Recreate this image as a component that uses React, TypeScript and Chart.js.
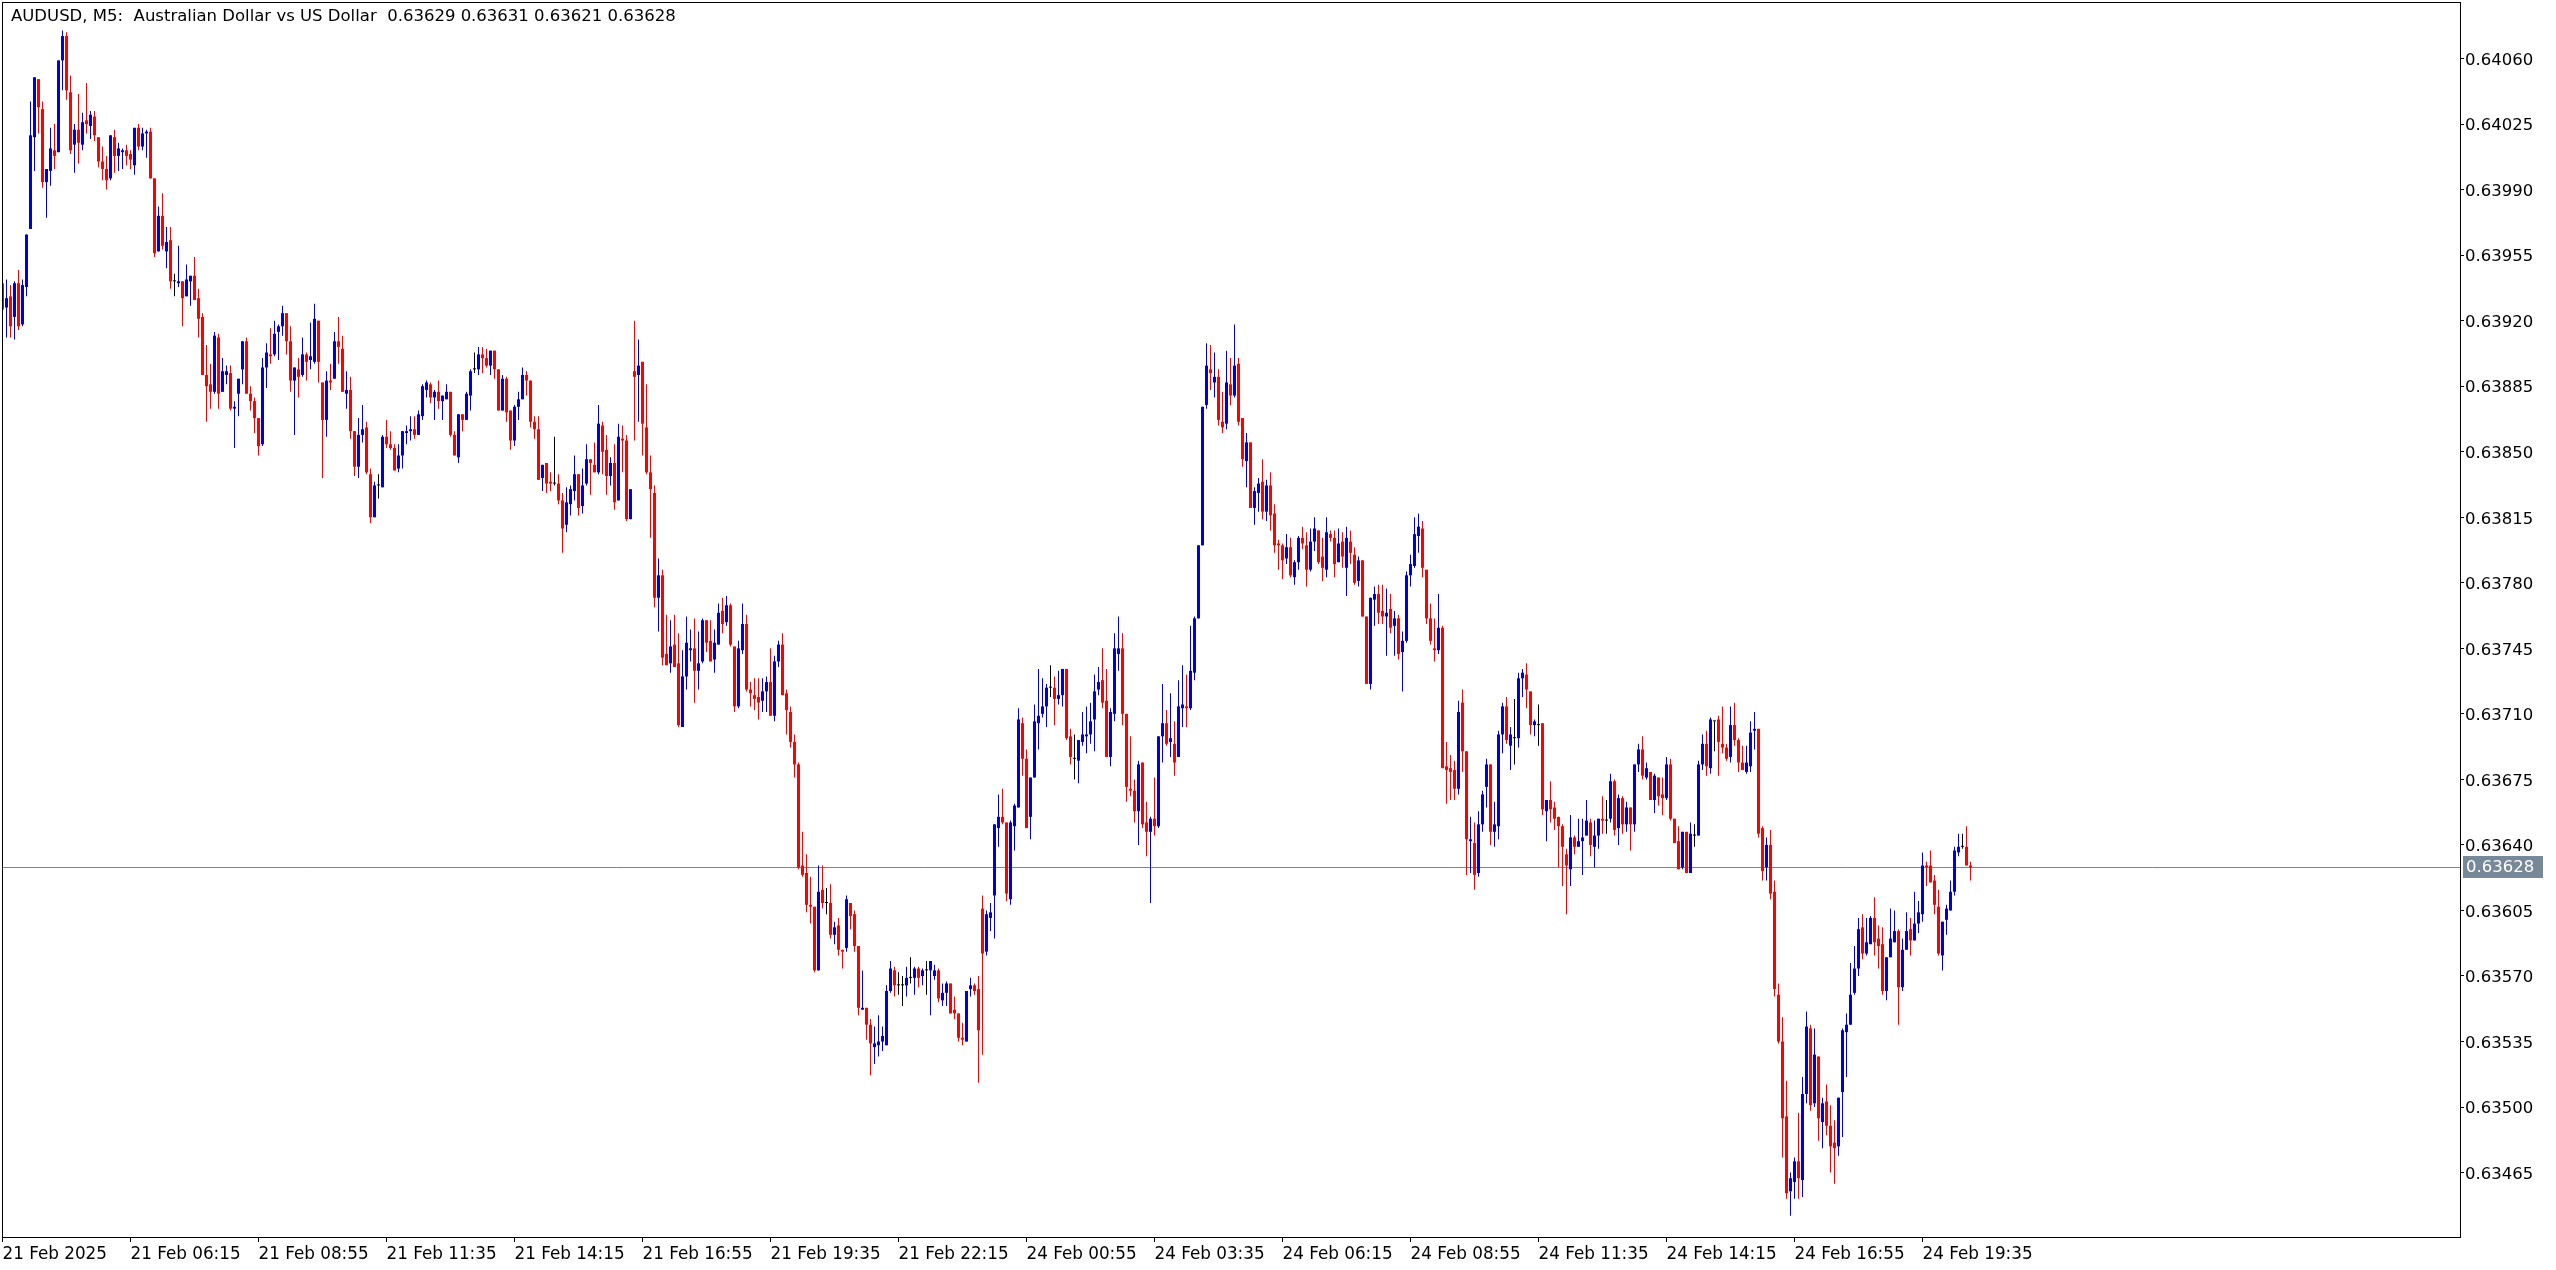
import React, { useEffect, useRef } from 'react';
import { Chart, registerables } from 'chart.js';

Chart.register(...registerables);

const TITLE = 'AUDUSD, M5:  Australian Dollar vs US Dollar  0.63629 0.63631 0.63621 0.63628';

const TIME_LABELS = [
  '21 Feb 2025', '21 Feb 06:15', '21 Feb 08:55', '21 Feb 11:35', '21 Feb 14:15', '21 Feb 16:55',
  '21 Feb 19:35', '21 Feb 22:15', '24 Feb 00:55', '24 Feb 03:35', '24 Feb 06:15', '24 Feb 08:55',
  '24 Feb 11:35', '24 Feb 14:15', '24 Feb 16:55', '24 Feb 19:35',
];
const TIME_LABEL_BARS = [0, 32, 64, 96, 128, 160, 192, 224, 256, 288, 320, 352, 384, 416, 448, 480];

const PRICE_TICKS = [
  0.63465, 0.635, 0.63535, 0.6357, 0.63605, 0.6364, 0.63675, 0.6371, 0.63745,
  0.6378, 0.63815, 0.6385, 0.63885, 0.6392, 0.63955, 0.6399, 0.64025, 0.6406,
];

// prices in points (1 point = 0.00001)
const OPEN = [
  63940, 63927, 63933, 63922, 63940, 63918, 63938, 63969, 64018, 64049,
  64033, 63994, 64000, 64011, 64010, 64059, 64072, 64042, 64014, 64022,
  64014, 64027, 64024, 64029, 64018, 64005, 64001, 63996, 64018, 64008,
  64010, 64011, 64009, 64003, 64023, 64013, 64020, 64021, 63996, 63957,
  63976, 63957, 63963, 63941, 63940, 63941, 63933, 63941, 63944, 63932,
  63922, 63891, 63886, 63882, 63911, 63882, 63891, 63892, 63873, 63881,
  63894, 63909, 63881, 63877, 63868, 63854, 63895, 63902, 63902, 63914,
  63917, 63924, 63909, 63888, 63894, 63891, 63902, 63899, 63898, 63920,
  63887, 63867, 63888, 63889, 63909, 63905, 63881, 63883, 63861, 63842,
  63859, 63863, 63838, 63815, 63832, 63831, 63858, 63854, 63852, 63841,
  63848, 63860, 63861, 63862, 63859, 63869, 63883, 63886, 63879, 63882,
  63877, 63878, 63882, 63859, 63847, 63870, 63867, 63880, 63894, 63894,
  63902, 63900, 63896, 63904, 63894, 63872, 63889, 63872, 63856, 63874,
  63878, 63891, 63888, 63866, 63862, 63836, 63844, 63834, 63833, 63833,
  63824, 63811, 63822, 63829, 63838, 63821, 63833, 63846, 63843, 63839,
  63864, 63851, 63837, 63844, 63824, 63857, 63856, 63814, 63893, 63891,
  63898, 63863, 63839, 63828, 63772, 63784, 63742, 63737, 63747, 63737,
  63703, 63730, 63744, 63745, 63733, 63738, 63760, 63749, 63739, 63747,
  63765, 63759, 63768, 63746, 63714, 63744, 63758, 63723, 63720, 63719,
  63717, 63722, 63727, 63709, 63738, 63747, 63721, 63711, 63695, 63683,
  63629, 63625, 63608, 63607, 63573, 63616, 63609, 63609, 63592, 63597,
  63584, 63585, 63609, 63603, 63586, 63552, 63553, 63544, 63532, 63533,
  63535, 63533, 63562, 63573, 63565, 63565, 63565, 63569, 63569, 63574,
  63570, 63573, 63573, 63570, 63573, 63557, 63561, 63566, 63552, 63550,
  63537, 63535, 63563, 63565, 63563, 63606, 63583, 63601, 63613, 63649,
  63655, 63652, 63611, 63650, 63660, 63705, 63686, 63655, 63676, 63705,
  63710, 63714, 63724, 63724, 63718, 63720, 63734, 63698, 63686, 63685,
  63695, 63698, 63699, 63707, 63723, 63728, 63717, 63687, 63710, 63742,
  63745, 63710, 63670, 63669, 63658, 63684, 63652, 63647, 63654, 63650,
  63698, 63705, 63695, 63694, 63687, 63713, 63714, 63713, 63732, 63761,
  63800, 63875, 63894, 63887, 63890, 63866, 63865, 63886, 63880, 63897,
  63868, 63845, 63855, 63820, 63828, 63834, 63818, 63832, 63817, 63801,
  63800, 63793, 63799, 63783, 63791, 63804, 63800, 63787, 63802, 63808,
  63794, 63787, 63806, 63804, 63791, 63802, 63788, 63802, 63795, 63781,
  63792, 63762, 63726, 63771, 63774, 63765, 63762, 63766, 63757, 63761,
  63743, 63749, 63784, 63789, 63805, 63809, 63787, 63761, 63745, 63744,
  63756, 63682, 63681, 63680, 63670, 63716, 63690, 63642, 63641, 63625,
  63651, 63671, 63683, 63647, 63650, 63699, 63714, 63693, 63697, 63697,
  63729, 63731, 63722, 63704, 63704, 63705, 63658, 63664, 63660, 63655,
  63650, 63635, 63627, 63644, 63639, 63642, 63645, 63652, 63639, 63645,
  63654, 63653, 63654, 63674, 63649, 63665, 63651, 63660, 63651, 63683,
  63691, 63676, 63679, 63664, 63676, 63667, 63665, 63683, 63654, 63642,
  63628, 63647, 63625, 63645, 63645, 63683, 63694, 63681, 63706, 63707,
  63694, 63692, 63687, 63704, 63696, 63684, 63679, 63682, 63701, 63702,
  63649, 63628, 63640, 63615, 63560, 63535, 63495, 63455, 63460, 63471,
  63461, 63507, 63542, 63502, 63527, 63492, 63503, 63490, 63481, 63479,
  63508, 63540, 63544, 63561, 63574, 63596, 63582, 63587, 63601, 63590,
  63587, 63562, 63580, 63588, 63594, 63564, 63584, 63595, 63589, 63598,
  63603, 63629, 63629, 63621, 63607, 63581, 63600, 63605, 63615, 63636,
  63639, 63639, 63629,
];

const HIGH = [
  63942, 63942, 63939, 63941, 63947, 63942, 63966, 64037, 64050, 64049,
  64037, 64001, 64023, 64025, 64059, 64075, 64074, 64051, 64025, 64041,
  64031, 64047, 64032, 64032, 64018, 64013, 64008, 64019, 64022, 64015,
  64012, 64014, 64011, 64023, 64025, 64023, 64022, 64023, 63996, 63981,
  63988, 63970, 63970, 63945, 63960, 63941, 63950, 63944, 63954, 63937,
  63924, 63907, 63897, 63914, 63913, 63900, 63896, 63896, 63877, 63889,
  63909, 63911, 63885, 63879, 63868, 63900, 63908, 63916, 63920, 63918,
  63928, 63924, 63917, 63895, 63900, 63911, 63903, 63919, 63929, 63920,
  63887, 63893, 63897, 63914, 63922, 63912, 63893, 63890, 63861, 63868,
  63875, 63866, 63841, 63834, 63838, 63859, 63867, 63861, 63854, 63854,
  63861, 63864, 63869, 63869, 63872, 63886, 63888, 63887, 63883, 63888,
  63880, 63886, 63882, 63861, 63870, 63870, 63882, 63894, 63903, 63906,
  63906, 63905, 63904, 63904, 63894, 63891, 63890, 63872, 63875, 63882,
  63895, 63893, 63888, 63869, 63869, 63843, 63844, 63839, 63858, 63838,
  63828, 63831, 63832, 63848, 63838, 63841, 63854, 63846, 63855, 63875,
  63866, 63859, 63847, 63854, 63865, 63864, 63859, 63830, 63920, 63910,
  63898, 63886, 63848, 63832, 63793, 63787, 63763, 63760, 63763, 63753,
  63744, 63762, 63755, 63761, 63754, 63761, 63760, 63760, 63755, 63769,
  63772, 63773, 63769, 63746, 63749, 63769, 63763, 63727, 63729, 63729,
  63729, 63730, 63745, 63741, 63749, 63753, 63723, 63714, 63699, 63684,
  63647, 63635, 63623, 63607, 63629, 63629, 63617, 63619, 63599, 63601,
  63584, 63613, 63609, 63605, 63586, 63573, 63553, 63547, 63543, 63549,
  63543, 63565, 63578, 63575, 63572, 63570, 63575, 63580, 63575, 63575,
  63574, 63578, 63578, 63576, 63574, 63566, 63567, 63566, 63559, 63550,
  63545, 63562, 63569, 63566, 63570, 63613, 63605, 63609, 63651, 63667,
  63670, 63652, 63653, 63662, 63713, 63708, 63691, 63676, 63715, 63734,
  63729, 63726, 63736, 63730, 63733, 63734, 63734, 63702, 63699, 63696,
  63711, 63714, 63716, 63731, 63735, 63745, 63734, 63713, 63753, 63762,
  63753, 63710, 63698, 63675, 63685, 63684, 63663, 63655, 63676, 63698,
  63726, 63712, 63721, 63706, 63728, 63736, 63731, 63757, 63762, 63800,
  63874, 63908, 63907, 63903, 63894, 63882, 63904, 63900, 63918, 63900,
  63868, 63860, 63855, 63831, 63836, 63846, 63835, 63839, 63822, 63803,
  63801, 63806, 63804, 63792, 63805, 63810, 63807, 63809, 63815, 63808,
  63804, 63815, 63808, 63808, 63809, 63807, 63810, 63808, 63799, 63794,
  63792, 63762, 63772, 63778, 63779, 63779, 63777, 63774, 63765, 63763,
  63754, 63786, 63795, 63815, 63817, 63813, 63787, 63769, 63761, 63774,
  63757, 63695, 63688, 63685, 63717, 63723, 63690, 63655, 63652, 63658,
  63669, 63686, 63683, 63663, 63701, 63716, 63719, 63703, 63718, 63732,
  63734, 63737, 63722, 63707, 63715, 63705, 63664, 63674, 63663, 63655,
  63651, 63638, 63656, 63645, 63654, 63654, 63664, 63654, 63653, 63654,
  63666, 63664, 63678, 63675, 63667, 63666, 63663, 63660, 63683, 63694,
  63698, 63684, 63679, 63678, 63676, 63676, 63687, 63686, 63654, 63650,
  63647, 63647, 63652, 63651, 63685, 63699, 63701, 63708, 63706, 63709,
  63714, 63694, 63714, 63716, 63697, 63693, 63693, 63706, 63711, 63702,
  63650, 63644, 63648, 63621, 63566, 63548, 63514, 63465, 63473, 63497,
  63516, 63551, 63544, 63542, 63527, 63505, 63512, 63501, 63493, 63505,
  63542, 63550, 63577, 63586, 63601, 63603, 63601, 63602, 63612, 63597,
  63596, 63580, 63606, 63605, 63595, 63590, 63604, 63601, 63615, 63610,
  63636, 63631, 63637, 63624, 63616, 63599, 63608, 63621, 63639, 63646,
  63646, 63650, 63631,
];

const LOW = [
  63924, 63911, 63911, 63910, 63915, 63917, 63933, 63969, 64000, 64020,
  63991, 63975, 63992, 64001, 64010, 64043, 64038, 64009, 63999, 64004,
  64011, 64020, 64017, 64016, 64002, 63995, 63990, 63995, 63999, 64000,
  64001, 64003, 64001, 63998, 64011, 64011, 64007, 63996, 63954, 63957,
  63958, 63948, 63937, 63933, 63938, 63917, 63933, 63928, 63931, 63911,
  63891, 63866, 63873, 63881, 63873, 63882, 63886, 63872, 63852, 63869,
  63886, 63881, 63872, 63860, 63848, 63853, 63884, 63897, 63901, 63899,
  63912, 63902, 63882, 63859, 63879, 63890, 63888, 63894, 63897, 63887,
  63836, 63858, 63883, 63889, 63897, 63882, 63873, 63857, 63837, 63836,
  63855, 63838, 63812, 63815, 63825, 63831, 63852, 63851, 63840, 63839,
  63841, 63854, 63856, 63857, 63859, 63867, 63879, 63876, 63867, 63873,
  63867, 63878, 63858, 63848, 63844, 63861, 63867, 63872, 63892, 63891,
  63892, 63895, 63891, 63889, 63872, 63872, 63866, 63851, 63853, 63867,
  63878, 63880, 63863, 63857, 63835, 63829, 63828, 63829, 63832, 63822,
  63796, 63807, 63816, 63824, 63816, 63817, 63832, 63827, 63839, 63838,
  63838, 63827, 63832, 63819, 63824, 63839, 63813, 63814, 63856, 63866,
  63848, 63838, 63804, 63767, 63754, 63736, 63736, 63732, 63735, 63703,
  63703, 63723, 63738, 63716, 63723, 63737, 63743, 63738, 63732, 63747,
  63753, 63757, 63746, 63711, 63713, 63742, 63722, 63714, 63712, 63707,
  63711, 63711, 63709, 63706, 63735, 63720, 63699, 63692, 63676, 63627,
  63623, 63604, 63598, 63572, 63573, 63606, 63603, 63590, 63587, 63581,
  63574, 63583, 63595, 63583, 63549, 63552, 63536, 63517, 63523, 63527,
  63530, 63533, 63561, 63559, 63560, 63554, 63559, 63566, 63560, 63564,
  63565, 63560, 63549, 63568, 63556, 63554, 63554, 63550, 63547, 63535,
  63533, 63535, 63559, 63560, 63513, 63528, 63581, 63594, 63590, 63639,
  63651, 63610, 63608, 63637, 63660, 63677, 63649, 63643, 63676, 63691,
  63708, 63703, 63719, 63704, 63715, 63714, 63696, 63683, 63675, 63673,
  63693, 63689, 63694, 63690, 63720, 63713, 63687, 63682, 63706, 63733,
  63704, 63663, 63666, 63652, 63640, 63649, 63634, 63609, 63645, 63649,
  63684, 63693, 63687, 63677, 63687, 63703, 63703, 63712, 63728, 63761,
  63800, 63873, 63883, 63879, 63864, 63860, 63862, 63875, 63879, 63864,
  63842, 63831, 63820, 63811, 63818, 63814, 63813, 63808, 63796, 63787,
  63782, 63790, 63783, 63779, 63787, 63798, 63778, 63786, 63797, 63790,
  63781, 63783, 63802, 63783, 63791, 63788, 63773, 63790, 63779, 63778,
  63762, 63726, 63723, 63757, 63758, 63758, 63741, 63753, 63741, 63739,
  63722, 63748, 63778, 63788, 63796, 63783, 63758, 63747, 63738, 63742,
  63681, 63662, 63664, 63664, 63667, 63679, 63624, 63625, 63616, 63623,
  63647, 63660, 63640, 63639, 63643, 63689, 63694, 63680, 63683, 63692,
  63719, 63713, 63699, 63698, 63693, 63656, 63642, 63652, 63648, 63628,
  63618, 63603, 63618, 63635, 63639, 63624, 63645, 63634, 63628, 63638,
  63646, 63646, 63652, 63645, 63640, 63646, 63647, 63637, 63647, 63679,
  63675, 63675, 63664, 63657, 63661, 63656, 63664, 63653, 63641, 63627,
  63627, 63625, 63625, 63639, 63645, 63680, 63677, 63678, 63690, 63677,
  63689, 63685, 63684, 63693, 63679, 63680, 63678, 63679, 63691, 63644,
  63621, 63621, 63611, 63559, 63534, 63473, 63451, 63442, 63451, 63451,
  63452, 63502, 63498, 63500, 63482, 63478, 63485, 63465, 63459, 63474,
  63484, 63516, 63544, 63560, 63570, 63579, 63581, 63587, 63581, 63574,
  63560, 63557, 63580, 63588, 63544, 63562, 63584, 63581, 63589, 63593,
  63599, 63618, 63620, 63603, 63581, 63573, 63592, 63605, 63613, 63634,
  63638, 63629, 63621,
];

const CLOSE = [
  63926, 63932, 63917, 63940, 63917, 63939, 63966, 64019, 64050, 64034,
  63994, 64001, 64012, 64008, 64059, 64072, 64043, 64011, 64022, 64015,
  64026, 64025, 64030, 64019, 64005, 64001, 63995, 64019, 64008, 64012,
  64011, 64008, 64006, 64023, 64013, 64020, 64021, 63996, 63956, 63976,
  63960, 63962, 63941, 63941, 63941, 63932, 63942, 63944, 63931, 63921,
  63891, 63885, 63882, 63912, 63881, 63893, 63893, 63873, 63874, 63889,
  63909, 63881, 63877, 63868, 63853, 63895, 63903, 63901, 63913, 63917,
  63924, 63909, 63888, 63895, 63890, 63902, 63898, 63901, 63921, 63898,
  63867, 63888, 63887, 63909, 63906, 63882, 63883, 63861, 63842, 63859,
  63862, 63839, 63815, 63832, 63832, 63858, 63854, 63852, 63840, 63848,
  63861, 63861, 63862, 63859, 63870, 63885, 63887, 63879, 63882, 63877,
  63880, 63882, 63859, 63848, 63870, 63867, 63881, 63893, 63894, 63902,
  63900, 63896, 63904, 63894, 63872, 63889, 63871, 63856, 63874, 63878,
  63891, 63888, 63866, 63862, 63835, 63843, 63833, 63833, 63833, 63824,
  63809, 63823, 63830, 63838, 63820, 63832, 63846, 63844, 63839, 63865,
  63850, 63837, 63844, 63823, 63858, 63856, 63814, 63830, 63890, 63896,
  63865, 63839, 63830, 63772, 63784, 63740, 63736, 63746, 63735, 63704,
  63730, 63748, 63745, 63733, 63737, 63760, 63748, 63738, 63748, 63764,
  63758, 63768, 63747, 63714, 63745, 63758, 63723, 63721, 63718, 63716,
  63722, 63727, 63709, 63738, 63747, 63720, 63712, 63695, 63683, 63628,
  63624, 63608, 63607, 63573, 63615, 63609, 63609, 63592, 63596, 63584,
  63583, 63611, 63602, 63586, 63553, 63553, 63544, 63534, 63534, 63535,
  63538, 63562, 63574, 63565, 63565, 63565, 63569, 63569, 63574, 63569,
  63573, 63573, 63578, 63573, 63558, 63561, 63566, 63550, 63550, 63537,
  63536, 63562, 63565, 63562, 63541, 63582, 63603, 63604, 63651, 63655,
  63652, 63614, 63652, 63661, 63707, 63686, 63649, 63676, 63706, 63709,
  63714, 63724, 63724, 63718, 63720, 63734, 63697, 63687, 63686, 63696,
  63699, 63699, 63706, 63722, 63727, 63716, 63687, 63711, 63745, 63745,
  63710, 63671, 63669, 63658, 63683, 63651, 63647, 63654, 63650, 63698,
  63705, 63694, 63697, 63684, 63714, 63715, 63713, 63733, 63761, 63800,
  63874, 63896, 63892, 63890, 63867, 63863, 63887, 63880, 63896, 63866,
  63846, 63855, 63820, 63829, 63833, 63818, 63832, 63816, 63800, 63800,
  63792, 63799, 63784, 63791, 63804, 63801, 63787, 63802, 63809, 63791,
  63788, 63807, 63804, 63790, 63801, 63794, 63804, 63796, 63780, 63792,
  63762, 63726, 63772, 63774, 63764, 63762, 63764, 63756, 63761, 63742,
  63749, 63784, 63790, 63806, 63810, 63788, 63761, 63749, 63744, 63756,
  63681, 63680, 63679, 63670, 63711, 63690, 63643, 63643, 63624, 63651,
  63667, 63683, 63647, 63651, 63699, 63714, 63696, 63699, 63697, 63729,
  63732, 63723, 63704, 63706, 63704, 63659, 63664, 63659, 63654, 63650,
  63639, 63629, 63644, 63639, 63642, 63644, 63653, 63640, 63645, 63654,
  63653, 63653, 63674, 63648, 63665, 63651, 63660, 63651, 63683, 63691,
  63677, 63681, 63664, 63677, 63666, 63665, 63683, 63654, 63641, 63627,
  63647, 63625, 63646, 63645, 63683, 63694, 63682, 63707, 63706, 63695,
  63692, 63686, 63704, 63696, 63684, 63680, 63684, 63700, 63702, 63646,
  63626, 63640, 63614, 63563, 63535, 63494, 63454, 63462, 63471, 63462,
  63507, 63543, 63501, 63528, 63494, 63502, 63490, 63479, 63478, 63505,
  63541, 63544, 63560, 63574, 63595, 63582, 63588, 63601, 63588, 63586,
  63562, 63580, 63590, 63594, 63564, 63584, 63594, 63589, 63598, 63604,
  63629, 63628, 63620, 63608, 63582, 63599, 63606, 63615, 63637, 63639,
  63639, 63629, 63628,
];

const POINT = 0.00001;
const BLUE = '#0000dd';
const RED = '#ff0000';
const DOJI = '#000000';
const PRICE_LINE = '#778899';

const W = 2556;
const H = 1270;

function candleColor(i: number): string {
  if (CLOSE[i] > OPEN[i]) return BLUE;
  if (CLOSE[i] < OPEN[i]) return RED;
  return DOJI;
}

export default function App() {
  const ref = useRef<HTMLCanvasElement | null>(null);

  useEffect(() => {
    const canvas = ref.current;
    if (!canvas) return;
    const colors = OPEN.map((_, i) => candleColor(i));
    const wickData = OPEN.map((_, i) => ({ x: i, y: [LOW[i] * POINT, HIGH[i] * POINT] }));
    const bodyData = OPEN.map((_, i) => ({ x: i, y: [OPEN[i] * POINT, CLOSE[i] * POINT] }));
    const last = CLOSE[CLOSE.length - 1] * POINT;

    const overlay = {
      id: 'mt5overlay',
      beforeDatasetsDraw(chart: any) {
        const { ctx, chartArea, scales } = chart;
        const y = Math.round(scales.y.getPixelForValue(last)) + 0.5;
        ctx.save();
        ctx.strokeStyle = PRICE_LINE;
        ctx.lineWidth = 1;
        ctx.beginPath();
        ctx.moveTo(chartArea.left, y);
        ctx.lineTo(chartArea.right, y);
        ctx.stroke();
        ctx.restore();
      },
      afterDraw(chart: any) {
        const { ctx, chartArea, scales } = chart;
        ctx.save();
        ctx.strokeStyle = '#000';
        ctx.lineWidth = 1;
        ctx.strokeRect(chartArea.left + 0.5, chartArea.top + 0.5,
          chartArea.right - chartArea.left, chartArea.bottom - chartArea.top);
        ctx.fillStyle = '#000';
        ctx.font = '16.5px "DejaVu Sans"';
        ctx.textBaseline = 'alphabetic';
        ctx.textAlign = 'left';
        ctx.fillText(TITLE, chartArea.left + 9, 21);
        const y = Math.round(scales.y.getPixelForValue(last)) + 0.5;
        ctx.fillStyle = PRICE_LINE;
        ctx.fillRect(chartArea.right + 3, y - 11.5, 80, 22);
        ctx.fillStyle = '#fff';
        ctx.font = '16.5px "DejaVu Sans"';
        ctx.textBaseline = 'middle';
        ctx.fillText(last.toFixed(5), chartArea.right + 6, y + 0.5);
        ctx.restore();
      },
    };

    const chart = new Chart(canvas, {
      type: 'bar',
      data: {
        datasets: [
          {
            label: 'wick',
            data: wickData as any,
            backgroundColor: colors,
            borderWidth: 0,
            grouped: false,
            barPercentage: 1,
            categoryPercentage: 1,
            maxBarThickness: 1,
            inflateAmount: 0,
          } as any,
          {
            label: 'body',
            data: bodyData as any,
            backgroundColor: colors,
            borderWidth: 0,
            grouped: false,
            barPercentage: 1,
            categoryPercentage: 1,
            maxBarThickness: 3,
            minBarLength: 1,
            inflateAmount: 0,
          } as any,
        ],
      },
      options: {
        animation: false,
        responsive: false,
        maintainAspectRatio: false,
        devicePixelRatio: 1,
        events: [],
        layout: { padding: { left: 2, top: 2, right: 0, bottom: 0 } },
        plugins: {
          legend: { display: false },
          tooltip: { enabled: false },
          title: { display: false },
        },
        scales: {
          x: {
            type: 'linear',
            position: 'bottom',
            min: -0.125,
            max: 614.375,
            offset: false,
            afterFit: (s: any) => {
              s.height = 33;
              s.paddingLeft = 0;
              s.paddingRight = 0;
            },
            afterBuildTicks: (s: any) => { s.ticks = TIME_LABEL_BARS.map((v) => ({ value: v })); },
            ticks: {
              autoSkip: false,
              maxRotation: 0,
              minRotation: 0,
              align: 'start',
              padding: 3,
              color: '#000',
              font: { family: 'DejaVu Sans', size: 16.8 },
              callback: (_v: any, idx: number) => TIME_LABELS[idx] ?? '',
            },
            grid: { drawOnChartArea: false, drawTicks: true, tickLength: 5, color: '#000', offset: false },
            border: { display: false },
          } as any,
          y: {
            type: 'linear',
            position: 'right',
            min: 0.634306,
            max: 0.640902,
            beginAtZero: false,
            afterFit: (s: any) => {
              s.width = 96;
              s.paddingTop = 0;
              s.paddingBottom = 0;
            },
            afterBuildTicks: (s: any) => { s.ticks = PRICE_TICKS.map((v) => ({ value: v })); },
            ticks: {
              padding: 1,
              labelOffset: 2,
              color: '#000',
              font: { family: 'DejaVu Sans', size: 16.5 },
              callback: (v: any) => Number(v).toFixed(5),
            },
            grid: { drawOnChartArea: false, drawTicks: true, tickLength: 4, color: '#000' },
            border: { display: false },
          } as any,
        },
      },
      plugins: [overlay],
    });

    return () => { chart.destroy(); };
  }, []);

  return (
    <div style={{ position: 'fixed', left: 0, top: 0, width: W, height: H, background: '#fff' }}>
      <canvas ref={ref} width={W} height={H} style={{ display: 'block', width: W, height: H }} />
    </div>
  );
}
